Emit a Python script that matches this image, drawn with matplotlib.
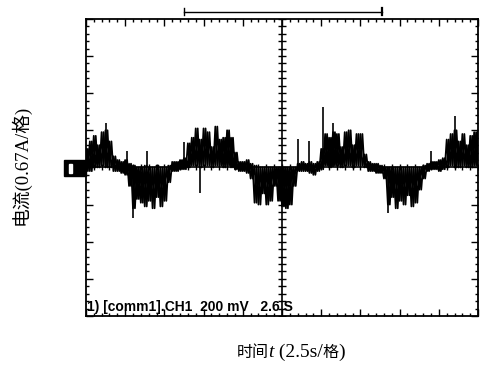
import numpy as np
import matplotlib
matplotlib.use("Agg")
import matplotlib.pyplot as plt
from matplotlib.patches import Rectangle
from matplotlib.offsetbox import TextArea, HPacker, AnchoredOffsetbox

# scope trace, in screen divisions (0.1 div time step)
# hi / lo = upper and lower edge of the noisy trace at each step
t_div = np.round(np.arange(0, 10.01, 0.1), 2)
trace_hi = [0.5, 0.7, 0.85, 0.6, 0.95, 1.0, 0.7, 0.3, 0.2, 0.15,
            0.2, 0.1, 0.05, 0.0, 0.0, 0.05, 0.0, 0.0, 0.05, 0.0,
            0.0, 0.05, 0.15, 0.15, 0.2, 0.25, 0.65, 0.8, 1.05, 0.75,
            1.05, 0.95, 0.55, 1.1, 0.75, 0.8, 1.0, 0.8, 0.4, 0.15,
            0.15, 0.2, 0.1, 0.05, 0.0, 0.0, 0.0, 0.0, 0.0, 0.0,
            0.0, 0.0, 0.0, 0.0, 0.1, 0.15, 0.1, 0.15, 0.1, 0.15,
            0.5, 0.9, 0.8, 0.95, 0.9, 0.55, 0.95, 1.0, 0.6, 0.9,
            0.9, 0.35, 0.15, 0.1, 0.1, 0.05, 0.0, 0.0, 0.0, 0.0,
            0.0, 0.0, 0.0, 0.0, 0.0, 0.0, 0.05, 0.1, 0.15, 0.15,
            0.2, 0.25, 0.75, 0.9, 1.0, 0.7, 0.9, 0.6, 0.85, 0.95,
            1.0]
trace_lo = [-0.1, -0.1, 0.0, 0.0, 0.05, 0.0, 0.0, -0.1, -0.1, -0.15,
            -0.2, -0.5, -1.1, -0.85, -0.95, -1.05, -0.9, -1.1, -0.8, -1.05,
            -0.9, -0.4, -0.1, -0.1, -0.05, -0.05, 0.0, 0.05, 0.05, 0.0,
            0.05, 0.05, 0.0, 0.05, 0.05, 0.0, 0.05, 0.0, -0.05, -0.1,
            -0.1, -0.15, -0.3, -0.95, -1.0, -0.7, -1.0, -0.9, -0.5, -0.9,
            -1.05, -1.1, -1.0, -0.5, -0.1, -0.1, -0.1, -0.15, -0.2, -0.1,
            -0.05, 0.05, 0.0, 0.05, 0.05, 0.0, 0.05, 0.05, 0.0, 0.05,
            0.05, 0.0, -0.1, -0.1, -0.15, -0.15, -0.3, -1.0, -0.8, -1.1,
            -0.9, -1.0, -0.75, -1.05, -0.95, -0.6, -0.3, -0.1, -0.05, -0.05,
            -0.1, -0.05, 0.0, 0.05, 0.0, 0.0, 0.05, 0.0, 0.0, 0.05,
            0.0]

# isolated glitches (time, peak value)
spike_t = [0.5, 1.05, 1.2, 1.55, 2.5, 2.9, 5.4, 5.7, 6.05, 6.3, 7.7, 8.8, 9.4]
spike_v = [1.2, 0.43, -1.35, 0.43, 0.68, -0.68, 0.76, 0.7, 1.62, 1.2, -1.22, 0.43, 1.38]

cursor_t = [2.5, 7.55]

fig = plt.figure(figsize=(4.8, 3.7), dpi=100)
ax = fig.add_axes([0.179, 0.146, 0.817, 0.803])
ax.set_xlim(0, 10)
ax.set_ylim(-4, 4)

for s in ax.spines.values():
    s.set_linewidth(1.3)

ax.set_xticks(np.arange(0, 10.01, 1))
ax.set_xticks(np.arange(0, 10.01, 0.2), minor=True)
ax.set_yticks(np.arange(-4, 4.01, 1))
ax.set_yticks(np.arange(-4, 4.01, 0.2), minor=True)
ax.tick_params(which="both", direction="in", top=True, right=True,
               labelbottom=False, labelleft=False, width=1.0)
ax.tick_params(which="major", length=5)
ax.tick_params(which="minor", length=2.5)

# centre graticule with its own ticks
ax.axvline(5, color="black", lw=1.2)
ax.axhline(0, color="black", lw=1.2)
minor_x = np.arange(0, 10.01, 0.2)
minor_y = np.arange(-4, 4.01, 0.2)
ax.plot(minor_x, np.zeros_like(minor_x), ls="none", marker="|", ms=5, mew=1, color="black")
ax.plot(np.full_like(minor_y, 5), minor_y, ls="none", marker="_", ms=6, mew=1, color="black")

# trace: two crossing zigzags between upper and lower edge
half = t_div + 0.05
ax.plot(np.ravel(np.column_stack([t_div, half])),
        np.ravel(np.column_stack([trace_hi, trace_lo])), color="black", lw=1.3)
ax.plot(np.ravel(np.column_stack([t_div, half])),
        np.ravel(np.column_stack([trace_lo, trace_hi])), color="black", lw=1.3)
ax.vlines(spike_t, 0, spike_v, color="black", lw=1.2)

# cursor bracket above the screen
ax.plot(cursor_t, [4.19, 4.19], color="black", lw=1.0, clip_on=False)
ax.plot([cursor_t[0]] * 2, [4.1, 4.28], color="black", lw=1.0, clip_on=False)
ax.plot([cursor_t[1]] * 2, [4.1, 4.28], color="black", lw=1.6, clip_on=False)

# channel marker on the left
ax.add_patch(Rectangle((-0.56, -0.24), 0.56, 0.43, color="black", clip_on=False))
ax.add_patch(Rectangle((-0.44, -0.16), 0.08, 0.25, color="white", clip_on=False))

ax.text(0.03, -3.76, "1) [comm1].CH1  200 mV   2.6 S", family="Liberation Sans",
        weight="bold", fontsize=10, va="center", ha="left")

fig.text(0.042, 0.555, "电流(0.67A/格)", rotation=90, ha="center", va="center",
         family=["Liberation Serif", "Noto Sans CJK SC"], fontsize=13.5)

serif = dict(family="Liberation Serif", size=14)
cjk = dict(family="Noto Sans CJK SC", size=11.5)
parts = [TextArea("时间", textprops=cjk),
         TextArea("t", textprops=dict(serif, style="italic")),
         TextArea(" (2.5s/", textprops=serif),
         TextArea("格", textprops=cjk),
         TextArea(")", textprops=serif)]
box = HPacker(children=parts, pad=0, sep=0, align="baseline")
anchored = AnchoredOffsetbox(loc="center", child=box, frameon=False,
                             bbox_to_anchor=(0.606, 0.048),
                             bbox_transform=fig.transFigure, borderpad=0)
fig.add_artist(anchored)

fig.savefig("out.png", dpi=100)
